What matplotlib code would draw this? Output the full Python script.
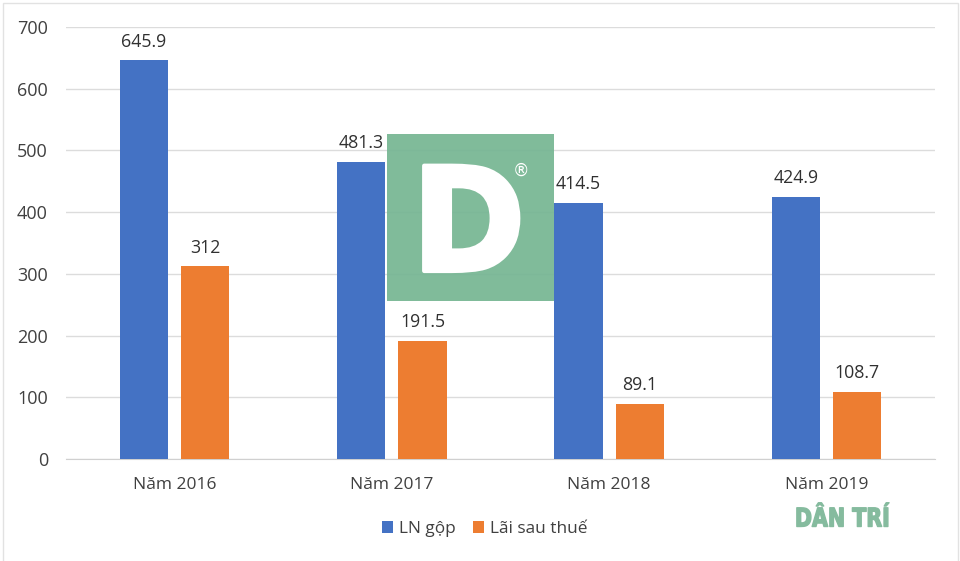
import matplotlib
matplotlib.use("Agg")
import matplotlib.pyplot as plt
import numpy as np
from matplotlib.patches import Rectangle
from matplotlib.patheffects import AbstractPathEffect

categories = ["Năm 2016", "Năm 2017", "Năm 2018", "Năm 2019"]
ln_gop = [645.9, 481.3, 414.5, 424.9]
lai_sau_thue = [312, 191.5, 89.1, 108.7]
labels_gop = ["645.9", "481.3", "414.5", "424.9"]
labels_lai = ["312", "191.5", "89.1", "108.7"]
yticks = [0, 100, 200, 300, 400, 500, 600, 700]

plt.rcParams["font.family"] = ["Open Sans", "DejaVu Sans"]
TXT = "#404040"
W, H = 960, 561


class Squeeze(AbstractPathEffect):
    """Narrow a glyph horizontally and optionally embolden it."""
    def __init__(self, sx, cx, stroke, color):
        super().__init__()
        self.sx, self.cx, self.stroke, self.color = sx, cx, stroke, color

    def draw_path(self, renderer, gc, tpath, affine, rgbFace=None):
        a = affine.frozen().translate(-self.cx, 0).scale(self.sx, 1).translate(self.cx, 0)
        gc0 = renderer.new_gc()
        gc0.copy_properties(gc)
        gc0.set_foreground(self.color)
        gc0.set_linewidth(self.stroke)
        renderer.draw_path(gc0, tpath, a, rgbFace)
        gc0.restore()


fig = plt.figure(figsize=(9.6, 5.61), dpi=100, facecolor="white")
ax = fig.add_axes([66 / W, 1 - 459 / H, (935 - 66) / W, (459 - 27) / H])
x = np.arange(len(categories))
bw, off = 0.222, 0.141
b1 = ax.bar(x - off, ln_gop, bw, color="#4472C4", label="LN gộp", zorder=3)
b2 = ax.bar(x + off, lai_sau_thue, bw, color="#ED7D31", label="Lãi sau thuế", zorder=3)
ax.bar_label(b1, labels_gop, padding=7, fontsize=12.8, color="#303030")
ax.bar_label(b2, labels_lai, padding=7, fontsize=12.8, color="#303030")
ax.set_xlim(-0.5, 3.5)
ax.set_ylim(0, 700)
ax.set_yticks(yticks)
ax.set_xticks(x, categories)
ax.grid(axis="y", color="#dcdcdc", lw=1, zorder=0)
ax.set_axisbelow(True)
for s in ("top", "right", "left"):
    ax.spines[s].set_visible(False)
ax.spines["bottom"].set_color("#d0d0d0")
ax.tick_params(axis="y", length=0, pad=13, labelsize=13, labelcolor=TXT)
ax.tick_params(axis="x", length=0, pad=13, labelsize=12.5, labelcolor=TXT)

fig.legend(handles=[b1, b2], loc="center", bbox_to_anchor=(485 / W, 1 - 529 / H),
           ncol=2, frameon=False, fontsize=12.4, labelcolor=TXT, handlelength=0.65,
           handleheight=0.65, handletextpad=0.35, columnspacing=1.0)

# page frame
fig.add_artist(Rectangle((3 / W, -0.02), (958 - 3) / W, 1.02 - 3 / H, transform=fig.transFigure,
                         fill=False, ec="#e2e2e2", lw=1))

# watermark
fig.add_artist(Rectangle((387 / W, 1 - 301 / H), 167 / W, 167 / H, transform=fig.transFigure,
                         fc="#75b592", ec="none", alpha=0.92, zorder=10))
t = fig.text(468.5 / W, 1 - 271 / H, "D", family="DejaVu Sans", weight="bold", fontsize=104,
             color="white", ha="center", va="baseline", zorder=11)
t.set_path_effects([Squeeze(0.95, 468.5, 3, "white")])
fig.text(521 / W, 1 - 171 / H, "®", family="DejaVu Sans", fontsize=12, color="white",
         ha="center", va="center", zorder=11)
t2 = fig.text(842.5 / W, 1 - 526.5 / H, "DÂN TRÍ", family="DejaVu Sans", weight="bold", fontsize=18.5,
              color="#85bb9e", ha="center", va="baseline", zorder=11)
t2.set_path_effects([Squeeze(0.8, 842.5, 1, "#85bb9e")])

fig.savefig("out.png", dpi=100)
